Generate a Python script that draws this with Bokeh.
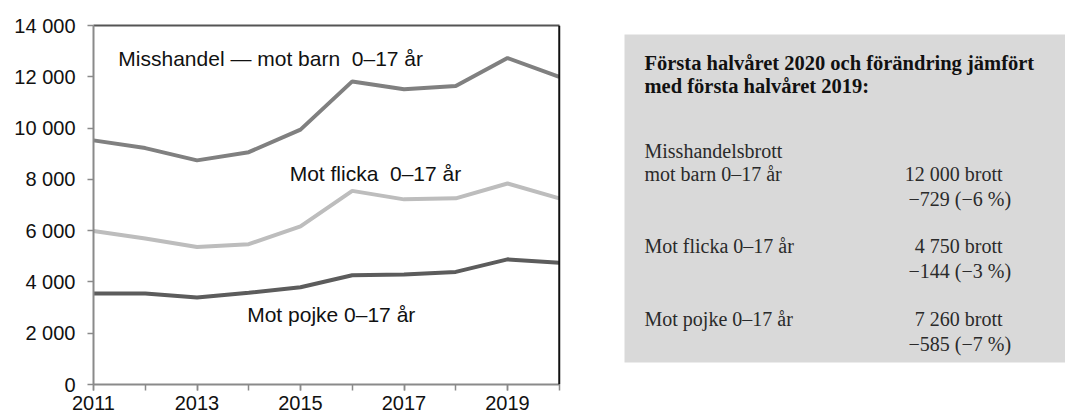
from bokeh.plotting import figure
from bokeh.models import FixedTicker, LinearAxis, Range1d, Span
from bokeh.embed import file_html
from bokeh.resources import INLINE
from bokeh.core.properties import value

# ---- data ----
years = [2011, 2012, 2013, 2014, 2015, 2016, 2017, 2018, 2019, 2020]
misshandel = [9520, 9220, 8740, 9060, 9940, 11820, 11510, 11640, 12730, 12000]
flicka = [5990, 5690, 5360, 5470, 6170, 7550, 7220, 7260, 7840, 7260]
pojke = [3550, 3550, 3390, 3580, 3790, 4260, 4290, 4390, 4880, 4750]

series_labels = ["Misshandel — mot barn\u00a0\u00a00–17 år", "Mot flicka\u00a0\u00a00–17 år", "Mot pojke 0–17 år"]

xtick_labels_years = [2011, 2013, 2015, 2017, 2019]
yticks = [0, 2000, 4000, 6000, 8000, 10000, 12000, 14000]
ytick_labels = ["0", "2 000", "4 000", "6 000", "8 000", "10 000", "12 000", "14 000"]

box_heading = ["Första halvåret 2020 och förändring jämfört", "med första halvåret 2019:"]
box_label_lines = [["Misshandelsbrott", "mot barn 0–17 år"], ["Mot flicka 0–17 år"], ["Mot pojke 0–17 år"]]
box_totals = ["12 000 brott", "4 750 brott", "7 260 brott"]
box_changes = ["−729 (−6 %)", "−144 (−3 %)", "−585 (−7 %)"]

# ---- styles / geometry (canvas pixels) ----
SANS = "Liberation Sans"
SERIF = "Liberation Serif"
line_colors = ["#808080", "#bdbdbd", "#5c5c5c"]
label_pos_x = [2011.48, 2014.79, 2013.97]
label_pos_y = [12700, 8230, 2740]
AXIS_GREY = "#8a8a8a"

W, H = 1065, 418
BL, BT = 93, 25
FRAME_BOTTOM = 384
BB = H - FRAME_BOTTOM
PX_PER_YEAR = 51.75
frame_w = W - BL

p = figure(width=W, height=H,
           x_range=Range1d(2011, 2011 + frame_w / PX_PER_YEAR), y_range=Range1d(0, 14000),
           output_backend="svg", toolbar_location=None,
           min_border_left=BL, min_border_right=0, min_border_top=BT, min_border_bottom=BB)
p.extra_x_ranges = {"px": Range1d(BL, W)}
p.extra_y_ranges = {"px": Range1d(FRAME_BOTTOM, BT)}
p.outline_line_color = None
p.xgrid.visible = False
p.ygrid.visible = False
p.background_fill_color = "white"
p.border_fill_color = "white"

for ys, c in zip([misshandel, flicka, pojke], line_colors):
    p.line(years, ys, line_color=c, line_width=4)

p.text(x=label_pos_x, y=label_pos_y, text=series_labels, text_font=value(SANS),
       text_font_size="21px", text_color="#111111", text_baseline="middle", text_align="left")

# axes
xa = p.xaxis[0]
xa.ticker = FixedTicker(ticks=xtick_labels_years, minor_ticks=years)
xa.bounds = (2011, 2020)
xa.axis_line_color = AXIS_GREY
xa.axis_line_width = 2
xa.major_tick_line_color = AXIS_GREY
xa.minor_tick_line_color = AXIS_GREY
xa.major_tick_line_width = 1.5
xa.minor_tick_line_width = 1.5
xa.major_tick_out = 6
xa.major_tick_in = 0
xa.minor_tick_out = 6
xa.minor_tick_in = 0
xa.major_label_standoff = 5
xa.major_label_text_font = SANS
xa.major_label_text_font_size = "20px"
xa.major_label_text_color = "#111111"

ya = p.yaxis[0]
ya.ticker = FixedTicker(ticks=yticks)
ya.major_label_overrides = {t: l for t, l in zip(yticks, ytick_labels)}
ya.axis_line_color = AXIS_GREY
ya.axis_line_width = 2
ya.major_tick_line_color = AXIS_GREY
ya.major_tick_line_width = 1.5
ya.major_tick_out = 6
ya.major_tick_in = 0
ya.minor_tick_line_color = None
ya.major_label_standoff = 12
ya.major_label_text_font = SANS
ya.major_label_text_font_size = "20px"
ya.major_label_text_color = "#111111"

top = LinearAxis(ticker=FixedTicker(ticks=[]), axis_line_color="#555555", axis_line_width=2,
                 major_tick_line_color=None, minor_tick_line_color=None, bounds=(2011, 2020))
p.add_layout(top, "above")
p.add_layout(Span(location=2020, dimension="height", line_color="#111111", line_width=2))

# ---- side box (canvas-pixel coordinates) ----
BOX_L, BOX_R, BOX_T, BOX_B = 624, 1065, 34, 362
p.quad(left=BOX_L, right=BOX_R, top=BOX_T, bottom=BOX_B, fill_color="#d9d9d9", line_color=None,
       x_range_name="px", y_range_name="px")

TX = 644
p.text(x=[TX, TX], y=[62, 85], text=box_heading, text_font=value(SERIF), text_font_style="bold",
       text_font_size="20.5px", text_color="#111111", text_baseline="alphabetic",
       x_range_name="px", y_range_name="px")

group_base = [173, 245, 318]
lx, ly, lt = [], [], []
for lines, b in zip(box_label_lines, group_base):
    n = len(lines)
    for i, s in enumerate(lines):
        lx.append(TX)
        ly.append(b - (n - 1 - i) * 23)
        lt.append(s)
p.text(x=lx, y=ly, text=lt, text_font=value(SERIF), text_font_size="20px",
       text_color="#2a2a2a", text_baseline="alphabetic", x_range_name="px", y_range_name="px")
p.text(x=[1002] * 3, y=group_base, text=box_totals, text_font=value(SERIF), text_font_size="20px",
       text_color="#2a2a2a", text_baseline="alphabetic", text_align="right",
       x_range_name="px", y_range_name="px")
p.text(x=[908] * 3, y=[b + 25 for b in group_base], text=box_changes, text_font=value(SERIF),
       text_font_size="20px", text_color="#2a2a2a", text_baseline="alphabetic",
       x_range_name="px", y_range_name="px")

open("out.html", "w").write(file_html(p, INLINE))
